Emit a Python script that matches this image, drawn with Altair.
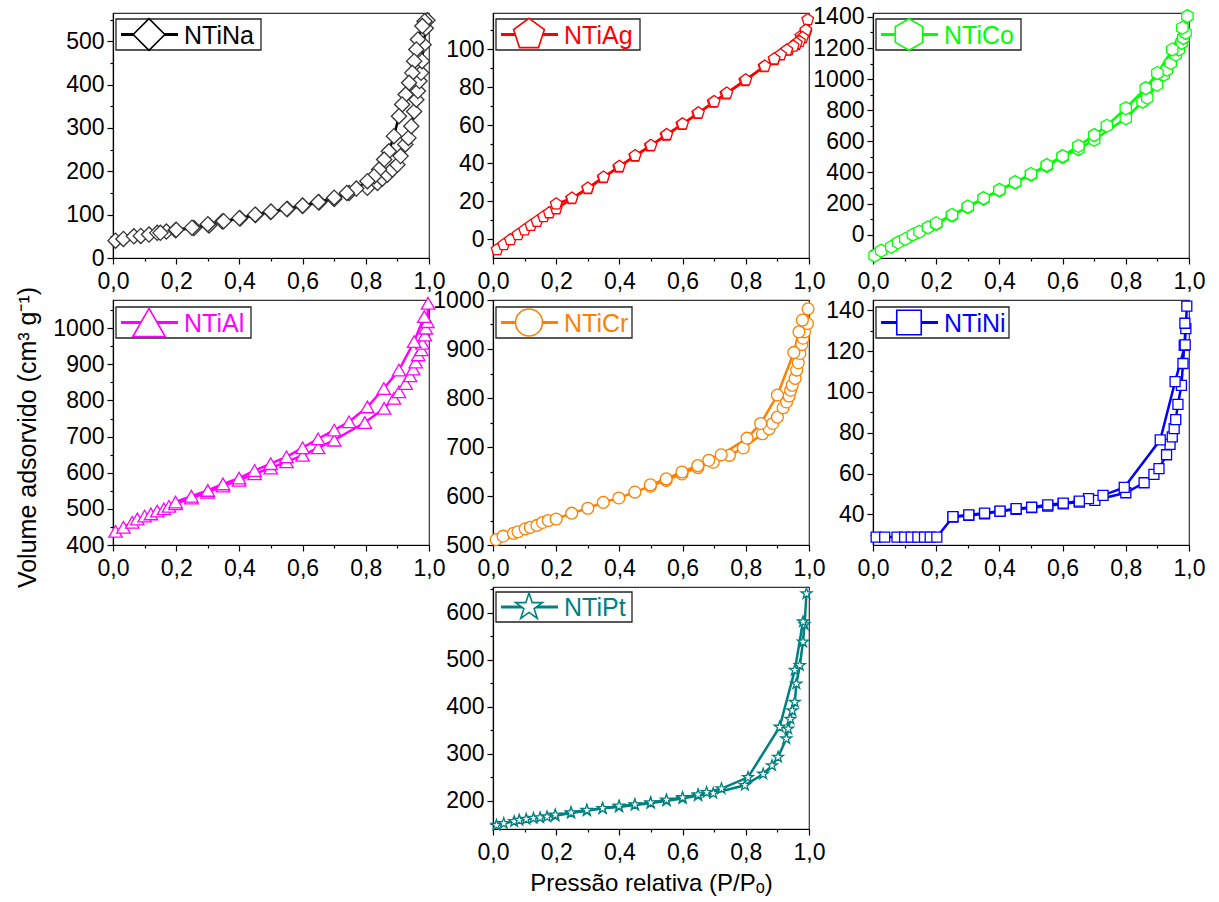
import altair as alt
import pandas as pd

FONT = "Liberation Sans"

# ---------------- data ----------------
X_MAJOR = [0.0, 0.2, 0.4, 0.6, 0.8, 1.0]
X_MINOR = [0.1, 0.3, 0.5, 0.7, 0.9]

na_ads_x = [0.008, 0.033, 0.066, 0.088, 0.114, 0.14, 0.169, 0.198, 0.256, 0.304, 0.346, 0.402, 0.451, 0.499,
            0.552, 0.60, 0.652, 0.70, 0.747, 0.805, 0.837, 0.852, 0.868, 0.884, 0.90, 0.91, 0.925, 0.935,
            0.944, 0.953, 0.96, 0.965, 0.97, 0.975, 0.978, 0.983, 0.99, 0.995]
na_ads_y = [40, 44, 50, 51, 54, 58, 61, 64, 69, 75, 84, 91, 99, 106, 113, 120, 128, 136, 150, 162, 173, 183,
            192, 204, 215, 235, 262, 277, 304, 338, 365, 385, 408, 427, 454, 492, 530, 548]
na_des_x = [0.986, 0.979, 0.965, 0.96, 0.953, 0.947, 0.937, 0.926, 0.915, 0.905, 0.889, 0.873, 0.858, 0.842,
            0.826, 0.805, 0.77, 0.74, 0.70, 0.65, 0.60, 0.55, 0.50, 0.45, 0.40, 0.35, 0.30, 0.25, 0.20, 0.15]
na_des_y = [546, 535, 504, 481, 454, 427, 404, 377, 354, 327, 281, 246, 227, 204, 188, 177, 160, 150, 139,
            129, 121, 113, 107, 100, 92, 85, 78, 70, 65, 58]

ag_ads_x = [0.013, 0.034, 0.055, 0.079, 0.10, 0.12, 0.139, 0.16, 0.178, 0.20, 0.249, 0.30, 0.349, 0.398,
            0.449, 0.498, 0.548, 0.598, 0.648, 0.697, 0.737, 0.797, 0.858, 0.89, 0.935, 0.958, 0.974, 0.99, 0.996]
ag_ads_y = [-5.6, -3, -0.4, 2.3, 4.8, 7.2, 9.3, 11.8, 13.8, 15.9, 21.2, 26.5, 32.3, 37.9, 43.6, 49, 54.7,
            60.3, 66.1, 72, 76.4, 83.4, 90.8, 94.4, 99.6, 102.3, 106.7, 109, 115.5]
ag_des_x = [0.99, 0.98, 0.97, 0.96, 0.95, 0.93, 0.91, 0.89, 0.86, 0.80, 0.74, 0.70, 0.65, 0.60, 0.55, 0.50,
            0.45, 0.40, 0.35, 0.30, 0.25, 0.20]
ag_des_y = [110, 106, 104, 103, 101.5, 99.5, 97, 94.8, 91, 83.8, 76.8, 72.3, 66.4, 60.6, 55, 49.3, 43.9,
            38.2, 32.6, 26.8, 21.5, 18.5]

co_ads_x = [0.005, 0.026, 0.058, 0.079, 0.102, 0.126, 0.147, 0.174, 0.20, 0.25, 0.30, 0.35, 0.40, 0.45,
            0.50, 0.55, 0.60, 0.65, 0.70, 0.80, 0.853, 0.868, 0.899, 0.92, 0.93, 0.942, 0.958, 0.968, 0.977,
            0.982, 0.989, 0.995]
co_ads_y = [-135, -103, -78, -50, -28, 0, 19, 47, 69, 123, 177, 231, 284, 334, 386, 442, 500, 550, 610, 748,
            855, 880, 964, 1028, 1060, 1103, 1157, 1190, 1233, 1265, 1297, 1405]
co_des_x = [0.979, 0.947, 0.90, 0.863, 0.80, 0.74, 0.70, 0.65, 0.60, 0.55, 0.50, 0.45, 0.40, 0.35, 0.30,
            0.25, 0.20]
co_des_y = [1330, 1190, 1039, 942, 813, 700, 640, 570, 505, 447, 390, 338, 288, 235, 181, 127, 73]

al_ads_x = [0.008, 0.033, 0.061, 0.077, 0.10, 0.12, 0.14, 0.161, 0.177, 0.198, 0.248, 0.299, 0.348, 0.399,
            0.448, 0.499, 0.549, 0.60, 0.649, 0.70, 0.797, 0.858, 0.889, 0.905, 0.926, 0.94, 0.95, 0.958,
            0.966, 0.976, 0.979, 0.987, 0.99, 0.995, 0.997]
al_ads_y = [438, 449, 463, 472, 480, 486, 494, 500, 507, 514, 530, 546, 563, 579, 597, 613, 630, 648, 669,
            690, 739, 778, 806, 824, 847, 868, 887, 906, 926, 940, 958, 981, 1000, 1018, 1069]
al_des_x = [0.985, 0.953, 0.905, 0.857, 0.805, 0.747, 0.70, 0.649, 0.60, 0.549, 0.499, 0.448, 0.399, 0.348,
            0.30, 0.248, 0.198]
al_des_y = [1032, 963, 884, 833, 782, 741, 718, 694, 669, 644, 625, 606, 585, 569, 551, 535, 519]

cr_ads_x = [0.01, 0.032, 0.065, 0.079, 0.102, 0.118, 0.139, 0.157, 0.175, 0.20, 0.249, 0.30, 0.349, 0.398,
            0.449, 0.498, 0.548, 0.598, 0.648, 0.697, 0.748, 0.792, 0.853, 0.874, 0.885, 0.90, 0.918, 0.929,
            0.937, 0.942, 0.947, 0.956, 0.961, 0.966, 0.971, 0.977, 0.981, 0.986, 0.995, 0.997]
cr_ads_y = [511, 518, 524, 527, 533, 536, 540, 546, 550, 553, 565, 575, 587, 596, 608, 620, 632, 645, 658,
            669, 683, 698, 727, 737, 748, 761, 780, 792, 804, 816, 826, 840, 857, 872, 891, 909, 922, 935,
            952, 982]
cr_des_x = [0.979, 0.968, 0.952, 0.90, 0.847, 0.804, 0.722, 0.683, 0.648, 0.598, 0.548, 0.498]
cr_des_y = [959, 935, 893, 806, 748, 718, 684, 673, 662, 649, 635, 623]

ni_ads_x = [0.01, 0.037, 0.076, 0.10, 0.121, 0.142, 0.163, 0.181, 0.202, 0.253, 0.303, 0.353, 0.402, 0.453,
            0.502, 0.553, 0.602, 0.653, 0.702, 0.80, 0.858, 0.889, 0.905, 0.929, 0.94, 0.947, 0.953, 0.958,
            0.965, 0.976, 0.981, 0.985, 0.99, 0.993]
ni_ads_y = [28.9, 28.9, 28.9, 28.9, 28.9, 28.9, 28.9, 28.9, 28.9, 38.7, 39.5, 40.3, 41.5, 42.5, 43.3, 44.1,
            45.2, 46, 46.9, 50.6, 55.5, 59.6, 62.4, 69.2, 74.3, 78, 82, 86.4, 93.9, 103.2, 113.9, 122.8,
            131, 142]
ni_des_x = [0.987, 0.988, 0.956, 0.909, 0.795, 0.728, 0.682, 0.653, 0.602, 0.553, 0.502, 0.453, 0.402,
            0.353, 0.303, 0.253]
ni_des_y = [133.6, 123.0, 105.0, 76.5, 53.2, 49.3, 47.7, 46.5, 45.5, 44.7, 43.5, 42.8, 41.6, 40.6, 39.8, 38.9]

pt_ads_x = [0.011, 0.034, 0.067, 0.083, 0.105, 0.128, 0.149, 0.171, 0.197, 0.247, 0.297, 0.347, 0.399,
            0.449, 0.499, 0.549, 0.60, 0.649, 0.697, 0.797, 0.855, 0.883, 0.902, 0.928, 0.934, 0.941, 0.947,
            0.955, 0.96, 0.971, 0.981, 0.986, 0.992]
pt_ads_y = [148, 152, 156, 159, 161, 163, 164, 166, 168, 174, 179, 184, 187, 191, 195, 200, 205, 211, 216,
            233, 257, 275, 293, 332, 353, 374, 392, 410, 449, 488, 538, 575, 641]
pt_des_x = [0.981, 0.955, 0.907, 0.807, 0.723, 0.676, 0.649, 0.60, 0.549, 0.499, 0.449, 0.399, 0.347,
            0.297, 0.247, 0.197]
pt_des_y = [581, 478, 357, 250, 226, 218, 213, 207, 202, 196, 192, 189, 184, 180, 175, 170]

names = ["NTiNa", "NTiAg", "NTiCo", "NTiAl", "NTiCr", "NTiNi", "NTiPt"]
colors = ["#000000", "#FF0000", "#00FF00", "#FF00FF", "#FF8000", "#0000FF", "#008080"]

y_domains = [[0, 565], [-10, 119], [-150, 1425], [400, 1078], [500, 1000], [25, 145], [140, 655]]
y_major = [[0, 100, 200, 300, 400, 500],
           [0, 20, 40, 60, 80, 100],
           [0, 200, 400, 600, 800, 1000, 1200, 1400],
           [400, 500, 600, 700, 800, 900, 1000],
           [500, 600, 700, 800, 900, 1000],
           [40, 60, 80, 100, 120, 140],
           [200, 300, 400, 500, 600]]
y_minor = [[50, 150, 250, 350, 450, 550],
           [10, 30, 50, 70, 90, 110],
           [-100, 100, 300, 500, 700, 900, 1100, 1300],
           [450, 550, 650, 750, 850, 950, 1050],
           [550, 650, 750, 850, 950],
           [30, 50, 70, 90, 110, 130],
           [150, 250, 350, 450, 550, 650]]

# ---------------- marker shapes ----------------
PENTAGON = "M0,-1L0.951,-0.309L0.588,0.809L-0.588,0.809L-0.951,-0.309Z"
HEXAGON = "M0,-1L0.866,-0.5L0.866,0.5L0,1L-0.866,0.5L-0.866,-0.5Z"
STAR = ("M0,-1L0.2245,-0.309L0.951,-0.309L0.363,0.118L0.588,0.809L0,0.382L-0.588,0.809"
        "L-0.363,0.118L-0.951,-0.309L-0.2245,-0.309Z")

shapes = ["diamond", PENTAGON, HEXAGON, "triangle-up", "circle", "square", STAR]
msizes = [230, 150, 170, 180, 140, 100, 130]
lsizes = [1000, 1050, 1000, 1050, 730, 600, 800]
legend_w = [148, 147, 148, 138, 139, 136, 139]
legend_y = [(6, 37), (6, 37), (6, 37), (7, 38), (7, 38), (7, 38), (5, 35)]
heights = [245, 245, 245, 245, 245, 245, 242]
marker_stroke = ["#333333", "#FF0000", "#00FF00", "#FF00FF", "#FF8000", "#0000FF", "#008080"]

series = [(na_ads_x, na_ads_y, na_des_x, na_des_y), (ag_ads_x, ag_ads_y, ag_des_x, ag_des_y),
          (co_ads_x, co_ads_y, co_des_x, co_des_y), (al_ads_x, al_ads_y, al_des_x, al_des_y),
          (cr_ads_x, cr_ads_y, cr_des_x, cr_des_y), (ni_ads_x, ni_ads_y, ni_des_x, ni_des_y),
          (pt_ads_x, pt_ads_y, pt_des_x, pt_des_y)]

PW = 316
XLABEL = "replace(format(datum.value, '.1f'), '.', ',')"


def make_panel(i):
    ax, ay, dx, dy = series[i]
    rows = [{"x": x, "y": y, "branch": "ads", "order": k} for k, (x, y) in enumerate(zip(ax, ay))]
    rows += [{"x": x, "y": y, "branch": "des", "order": k} for k, (x, y) in enumerate(zip(dx, dy))]
    df = pd.DataFrame(rows)
    color = colors[i]
    xs = alt.Scale(domain=[0, 1], nice=False, zero=False)
    ys = alt.Scale(domain=y_domains[i], nice=False, zero=False)

    if i == 6:
        x_axis = alt.Axis(values=X_MAJOR, labelExpr=XLABEL, labelPadding=6,
                          title="Pressão relativa (P/Pₒ)", titlePadding=7)
    else:
        x_axis = alt.Axis(values=X_MAJOR, labelExpr=XLABEL, labelPadding=6, title=None)
    if i == 3:
        y_axis = alt.Axis(values=y_major[i], format="d", title="Volume adsorvido (cm³ g⁻¹)",
                          titlePadding=12, titleY=137, titleFontSize=25)
    else:
        y_axis = alt.Axis(values=y_major[i], format="d", title=None)

    lines = alt.Chart(df).mark_line(color=color, strokeWidth=2.5).encode(
        x=alt.X("x:Q", scale=xs, axis=x_axis),
        y=alt.Y("y:Q", scale=ys, axis=y_axis),
        detail="branch:N",
        order="order:Q",
    )
    pts = alt.Chart(df).mark_point(
        shape=shapes[i], size=msizes[i], filled=True, fill="white", stroke=marker_stroke[i],
        strokeWidth=1.3, opacity=1, fillOpacity=1,
    ).encode(
        x=alt.X("x:Q", scale=xs, axis=None),
        y=alt.Y("y:Q", scale=ys, axis=None),
    )
    minor = alt.Chart(df).mark_point(opacity=0).encode(
        x=alt.X("x:Q", scale=xs, title=None,
                axis=alt.Axis(values=X_MINOR, labels=False, tickSize=3, domain=False, orient="bottom")),
        y=alt.Y("y:Q", scale=ys, title=None,
                axis=alt.Axis(values=y_minor[i], labels=False, tickSize=3, domain=False, orient="left")),
    )

    one = pd.DataFrame({"n": [names[i]]})
    y0, y1 = legend_y[i]
    ym = (y0 + y1) / 2
    box = alt.Chart(one).mark_rect(fill="white", stroke="#222222", strokeWidth=1.3).encode(
        x=alt.value(3), x2=alt.value(legend_w[i]), y=alt.value(y0), y2=alt.value(y1))
    lrule = alt.Chart(one).mark_rule(color=color, strokeWidth=3).encode(
        x=alt.value(8), x2=alt.value(65), y=alt.value(ym))
    lpt = alt.Chart(one).mark_point(
        shape=shapes[i], size=lsizes[i], filled=True, fill="white", stroke=color,
        strokeWidth=1.6, opacity=1, fillOpacity=1,
    ).encode(x=alt.value(36), y=alt.value(ym))
    ltxt = alt.Chart(one).mark_text(
        align="left", baseline="middle", font=FONT, fontSize=25,
        color=("#000000" if i == 0 else color),
    ).encode(x=alt.value(71), y=alt.value(ym + 1), text="n:N")

    return alt.layer(lines, pts, minor, box, lrule, lpt, ltxt).resolve_axis(
        x="independent", y="independent"
    ).properties(width=PW, height=heights[i])


panels = [make_panel(i) for i in range(7)]

blank = alt.Chart(pd.DataFrame({"x": [0], "y": [0]})).mark_point(opacity=0).encode(
    x=alt.X("x:Q", axis=None), y=alt.Y("y:Q", axis=None)
).properties(width=PW, height=242, view=alt.ViewBackground(strokeOpacity=0))

chart = alt.concat(
    panels[0], panels[1], panels[2], panels[3], panels[4], panels[5], blank, panels[6],
    columns=3, spacing={"row": 42, "column": 64},
).properties(
    bounds="flush",
    padding={"left": 15, "top": 5, "right": 5, "bottom": 5},
    background="white",
).configure_axis(
    labelFont=FONT, labelFontSize=23, labelColor="#000000",
    titleFont=FONT, titleFontSize=24, titleFontWeight="normal", titleColor="#000000",
    domainColor="#000000", tickColor="#000000", domainWidth=1.2, tickWidth=1.2, tickSize=6,
    labelPadding=3, labelFlush=False, labelOverlap=False, grid=False,
).configure_view(stroke="#333333", strokeWidth=1.2)

chart.save("out.html", embed_options={"renderer": "svg", "actions": False})
